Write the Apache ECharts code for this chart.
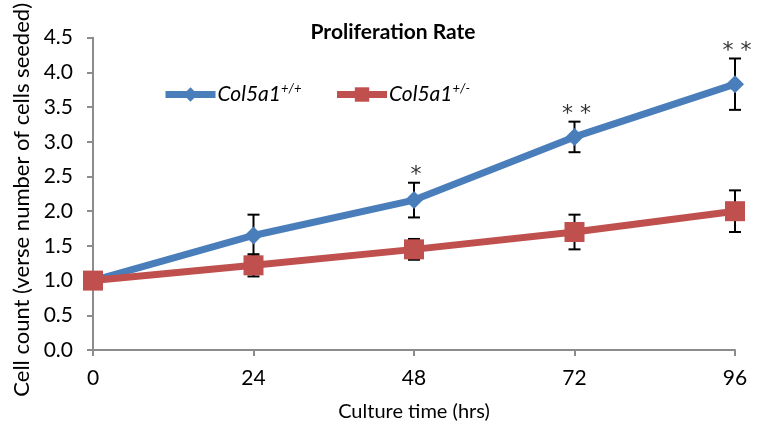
<!DOCTYPE html>
<html><head><meta charset="utf-8">
<script src="https://cdn.jsdelivr.net/npm/echarts@6/dist/echarts.min.js"></script>
<style>html,body{margin:0;padding:0;background:#fff}#c{width:758px;height:430px}</style>
</head><body><div id="c"></div>
<script>
const hours = [0, 24, 48, 72, 96];
const wtMean = [1.0, 1.65, 2.16, 3.07, 3.83];
const wtErr = [0, 0.30, 0.25, 0.22, 0.37];
const hetMean = [1.0, 1.22, 1.45, 1.70, 2.00];
const hetErr = [0, 0.16, 0.15, 0.25, 0.30];
const stars = ['', '', '*', '* *', '* *'];
const yTicks = [0, 0.5, 1, 1.5, 2, 2.5, 3, 3.5, 4, 4.5];

const FONT = 'Lato, "Open Sans", sans-serif';
const blue = '#4a7ebb', red = '#c0504d';

function errSeries(means, errs, z) {
  return {
    type: 'custom', z: z, silent: true,
    data: hours.map((h, i) => [h, means[i], errs[i]]),
    renderItem: function (params, api) {
      const x = api.value(0), m = api.value(1), e = api.value(2);
      if (!e) return null;
      const top = api.coord([x, m + e]), bot = api.coord([x, m - e]);
      const w = 6;
      const st = { stroke: '#000', lineWidth: 2 };
      return { type: 'group', children: [
        { type: 'line', shape: { x1: top[0], y1: top[1], x2: bot[0], y2: bot[1] }, style: st },
        { type: 'line', shape: { x1: top[0] - w, y1: top[1], x2: top[0] + w, y2: top[1] }, style: st },
        { type: 'line', shape: { x1: bot[0] - w, y1: bot[1], x2: bot[0] + w, y2: bot[1] }, style: st }
      ]};
    }
  };
}

const chart = echarts.init(document.getElementById('c'));
chart.setOption({
  animation: false,
  backgroundColor: '#fff',
  title: { text: 'Proliferation Rate', left: 388, top: 17, textAlign: 'center',
    textStyle: { fontFamily: FONT, fontSize: 21, fontWeight: 'bold', color: '#000' } },
  legend: {
    left: 162, top: 82, padding: 0, itemGap: 32, itemWidth: 50, itemHeight: 18,
    data: ['wt', 'het'],
    lineStyle: { width: 7 },
    formatter: function (n) { return n === 'wt' ? '{a|Col5a1}{b|+/+}' : '{a|Col5a1}{b|+/-}'; },
    textStyle: { fontFamily: FONT, color: '#000', padding: [0,0,0,-3], rich: {
      a: { fontSize: 21, fontStyle: 'italic', fontFamily: FONT },
      b: { fontSize: 13, fontStyle: 'italic', fontFamily: FONT, verticalAlign: 'top', padding: [0,0,12,0] }
    } }
  },
  grid: { left: 93, right: 23, top: 36, bottom: 80 },
  xAxis: {
    type: 'value', min: 0, max: 96, interval: 24,
    name: 'Culture time (hrs)', nameLocation: 'middle', nameGap: 52,
    nameTextStyle: { fontFamily: FONT, fontSize: 20, color: '#000' },
    axisLine: { lineStyle: { color: '#8c8c8c', width: 2 } },
    axisTick: { show: true, length: 6, lineStyle: { color: '#8c8c8c', width: 2 } },
    axisLabel: { fontFamily: FONT, fontSize: 21, color: '#000', margin: 18 },
    splitLine: { show: false }
  },
  yAxis: {
    type: 'value', min: 0, max: 4.5, interval: 0.5,
    name: 'Cell count (verse number of cells seeded)', nameLocation: 'middle', nameGap: 60,
    nameTextStyle: { fontFamily: FONT, fontSize: 22, color: '#000', padding: [0,0,0,-12] },
    axisLine: { show: true, lineStyle: { color: '#8c8c8c', width: 2 } },
    axisTick: { show: true, length: 6, lineStyle: { color: '#8c8c8c', width: 2 } },
    axisLabel: { fontFamily: FONT, fontSize: 21, color: '#000', margin: 20,
      formatter: v => yTicks.includes(v) ? v.toFixed(1) : '' },
    splitLine: { show: false }
  },
  series: [
    errSeries(wtMean, wtErr, 1),
    errSeries(hetMean, hetErr, 1),
    { name: 'wt', type: 'line', z: 3, data: hours.map((h, i) => [h, wtMean[i]]),
      symbol: 'diamond', symbolSize: 18, lineStyle: { color: blue, width: 7 },
      itemStyle: { color: blue } },
    { name: 'het', type: 'line', z: 4, data: hours.map((h, i) => [h, hetMean[i]]),
      symbol: 'rect', symbolSize: 20, lineStyle: { color: red, width: 7 },
      itemStyle: { color: red } },
    { type: 'custom', z: 5, silent: true,
      data: hours.map((h, i) => [h, wtMean[i] + wtErr[i], i]),
      renderItem: function (params, api) {
        const s = stars[api.value(2)];
        if (!s) return null;
        const p = api.coord([api.value(0), api.value(1)]);
        return { type: 'text', style: { text: s, x: p[0] + 2, y: p[1] + 4, align: 'center', verticalAlign: 'bottom',
          fontSize: 22, fontFamily: '"DejaVu Sans", sans-serif', fill: '#333' } };
      } }
  ]
});
</script></body></html>
